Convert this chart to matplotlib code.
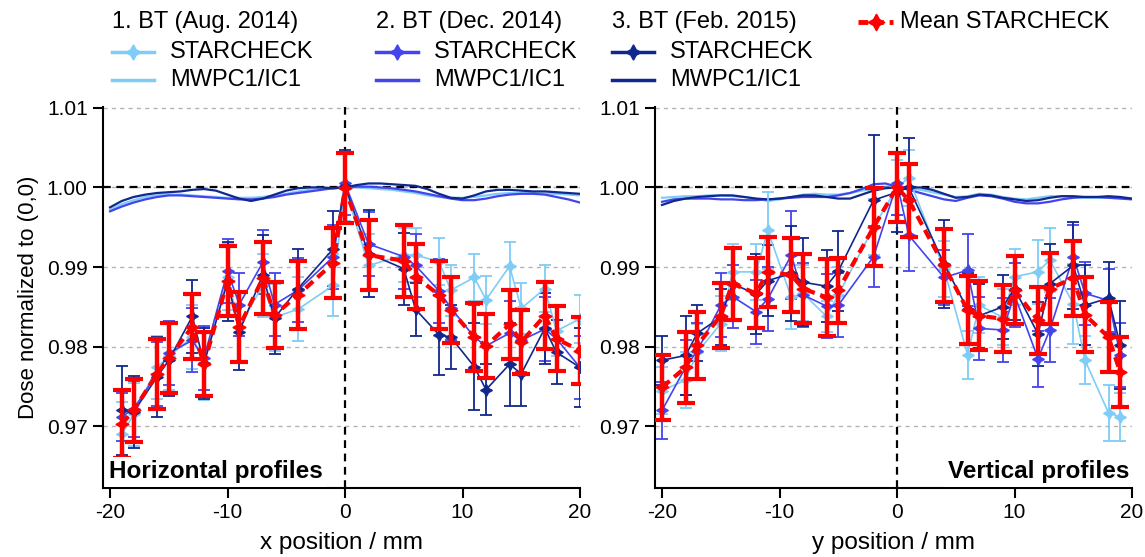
import numpy as np
import matplotlib
matplotlib.use('Agg')
import matplotlib.pyplot as plt

plt.rcParams['font.family'] = ['Liberation Sans', 'DejaVu Sans']

# ---------------- data ----------------
x_h = [-19, -18, -16, -15, -13, -12, -10, -9, -7, -6, -4, -1, 0, 2, 5, 6, 8, 9, 11, 12, 14, 15, 17, 18, 20]
aug_h = [0.9690, 0.9715, 0.9774, 0.9788, 0.9812, 0.9778, 0.9888, 0.9825, 0.9877, 0.9837, 0.9847, 0.9877, 1.0000,
         0.9902, 0.9915, 0.9915, 0.9907, 0.9871, 0.9887, 0.9859, 0.9901, 0.9848, 0.9873, 0.9820, 0.9835]
dec_h = [0.9712, 0.9722, 0.9766, 0.9792, 0.9808, 0.9786, 0.9895, 0.9853, 0.9906, 0.9853, 0.9871, 0.9913, 1.0005,
         0.9929, 0.9913, 0.9902, 0.9870, 0.9849, 0.9812, 0.9801, 0.9817, 0.9808, 0.9822, 0.9810, 0.9774]
feb_h = [0.9720, 0.9718, 0.9762, 0.9783, 0.9838, 0.9779, 0.9882, 0.9819, 0.9890, 0.9836, 0.9873, 0.9923, 1.0002,
         0.9917, 0.9898, 0.9847, 0.9815, 0.9812, 0.9775, 0.9746, 0.9778, 0.9766, 0.9823, 0.9793, 0.9774]
mean_h = [0.9703, 0.9720, 0.9766, 0.9786, 0.9825, 0.9778, 0.9883, 0.9825, 0.9886, 0.9840, 0.9865, 0.9905, 0.9999,
          0.9915, 0.9908, 0.9888, 0.9865, 0.9846, 0.9812, 0.9801, 0.9828, 0.9806, 0.9839, 0.9810, 0.9795]
aug_h_err = [0.0040, 0.0040, 0.0040, 0.0042, 0.0040, 0.0045, 0.0042, 0.0045, 0.0040, 0.0042, 0.0040, 0.0039, 0.0042,
             0.0040, 0.0034, 0.0034, 0.0030, 0.0032, 0.0030, 0.0030, 0.0030, 0.0032, 0.0030, 0.0032, 0.0030]
dec_h_err = [0.0030, 0.0035, 0.0040, 0.0040, 0.0040, 0.0040, 0.0040, 0.0040, 0.0040, 0.0040, 0.0040, 0.0040, 0.0040,
             0.0040, 0.0040, 0.0040, 0.0040, 0.0040, 0.0040, 0.0040, 0.0040, 0.0040, 0.0040, 0.0040, 0.0040]
feb_h_err = [0.0056, 0.0045, 0.0050, 0.0045, 0.0046, 0.0045, 0.0050, 0.0048, 0.0050, 0.0045, 0.0050, 0.0047, 0.0045,
             0.0055, 0.0045, 0.0033, 0.0050, 0.0040, 0.0055, 0.0032, 0.0052, 0.0040, 0.0045, 0.0040, 0.0050]
mean_h_err = [0.0043, 0.0040, 0.0044, 0.0044, 0.0041, 0.0040, 0.0044, 0.0044, 0.0045, 0.0041, 0.0043, 0.0044, 0.0044,
              0.0044, 0.0045, 0.0041, 0.0043, 0.0041, 0.0043, 0.0040, 0.0043, 0.0040, 0.0042, 0.0041, 0.0042]

x_v = [-20, -18, -17, -15, -14, -12, -11, -9, -8, -6, -5, -2, 0, 1, 4, 6, 7, 9, 10, 12, 13, 15, 16, 18, 19]
aug_v = [0.9745, 0.9758, 0.9793, 0.9829, 0.9894, 0.9894, 0.9946, 0.9862, 0.9867, 0.9838, 0.9865, 0.9950, 1.0000,
         1.0012, 0.9898, 0.9790, 0.9852, 0.9837, 0.9888, 0.9894, 0.9909, 0.9854, 0.9783, 0.9717, 0.9712]
dec_v = [0.9720, 0.9774, 0.9795, 0.9852, 0.9863, 0.9844, 0.9860, 0.9915, 0.9865, 0.9851, 0.9852, 0.9913, 1.0005,
         0.9940, 0.9887, 0.9896, 0.9823, 0.9821, 0.9865, 0.9785, 0.9821, 0.9913, 0.9867, 0.9858, 0.9790]
feb_v = [0.9783, 0.9789, 0.9817, 0.9837, 0.9879, 0.9866, 0.9883, 0.9892, 0.9881, 0.9876, 0.9895, 0.9984, 0.9994,
         1.0000, 0.9904, 0.9847, 0.9839, 0.9850, 0.9873, 0.9816, 0.9879, 0.9902, 0.9852, 0.9861, 0.9802]
mean_v = [0.9749, 0.9774, 0.9802, 0.9839, 0.9879, 0.9867, 0.9894, 0.9890, 0.9873, 0.9862, 0.9871, 0.9950, 1.0000,
          0.9984, 0.9902, 0.9846, 0.9839, 0.9835, 0.9871, 0.9833, 0.9873, 0.9886, 0.9840, 0.9812, 0.9768]
aug_v_err = [0.0030, 0.0035, 0.0035, 0.0035, 0.0035, 0.0035, 0.0048, 0.0040, 0.0035, 0.0020, 0.0035, 0.0035, 0.0035,
             0.0035, 0.0035, 0.0030, 0.0035, 0.0035, 0.0035, 0.0040, 0.0040, 0.0050, 0.0030, 0.0035, 0.0030]
dec_v_err = [0.0036, 0.0035, 0.0035, 0.0040, 0.0040, 0.0040, 0.0040, 0.0055, 0.0040, 0.0040, 0.0040, 0.0038, 0.0040,
             0.0045, 0.0035, 0.0045, 0.0040, 0.0040, 0.0040, 0.0035, 0.0040, 0.0040, 0.0040, 0.0040, 0.0040]
feb_v_err = [0.0031, 0.0050, 0.0035, 0.0035, 0.0045, 0.0050, 0.0045, 0.0060, 0.0055, 0.0045, 0.0050, 0.0082, 0.0050,
             0.0062, 0.0055, 0.0045, 0.0040, 0.0040, 0.0040, 0.0040, 0.0050, 0.0055, 0.0050, 0.0045, 0.0055]
mean_v_err = [0.0041, 0.0045, 0.0042, 0.0041, 0.0045, 0.0044, 0.0044, 0.0047, 0.0043, 0.0048, 0.0041, 0.0049, 0.0043,
              0.0046, 0.0046, 0.0043, 0.0043, 0.0042, 0.0043, 0.0042, 0.0045, 0.0047, 0.0047, 0.0044, 0.0044]

# MWPC1/IC1 profiles (1 mm steps, deviation from 1 in units of 1e-4)
x_mw = list(range(-20, 21))
mw_aug_h = [-28, -21, -16, -12, -10, -9, -9, -10, -11, -12, -13, -13, -13, -12, -10, -8, -5, -3, -2, -1, 0,
            0, -1, -2, -3, -5, -7, -10, -12, -13, -13, -12, -10, -8, -7, -7, -7, -8, -8, -9, -10]
mw_dec_h = [-30, -24, -19, -15, -12, -10, -10, -11, -12, -13, -14, -15, -15, -14, -12, -9, -7, -5, -3, -1, 0,
            1, 1, 0, -1, -3, -5, -8, -11, -14, -16, -16, -14, -11, -9, -8, -8, -9, -12, -15, -19]
mw_feb_h = [-25, -17, -12, -9, -7, -6, -5, -3, -2, -4, -9, -14, -17, -14, -9, -4, -1, 0, 0, -1, 0,
            3, 5, 5, 4, 3, 2, -2, -8, -13, -14, -10, -5, -3, -3, -4, -5, -5, -6, -7, -8]
mw_aug_v = [-13, -12, -11, -11, -10, -10, -11, -12, -14, -17, -15, -12, -9, -8, -9, -9, -7, -4, -2, 0, 0,
            -1, -3, -6, -9, -12, -11, -8, -9, -12, -14, -15, -13, -11, -11, -12, -13, -13, -13, -13, -14]
mw_dec_v = [-18, -15, -14, -14, -14, -15, -15, -16, -16, -15, -14, -13, -12, -12, -12, -10, -7, -2, 4, 5, 1,
            -3, -7, -11, -15, -17, -13, -10, -11, -14, -18, -20, -20, -18, -15, -13, -12, -12, -13, -14, -15]
mw_feb_v = [-22, -17, -14, -12, -11, -10, -10, -12, -14, -15, -14, -12, -10, -10, -12, -14, -14, -9, -4, -1, 0,
            0, 0, -3, -8, -13, -12, -9, -10, -13, -15, -17, -16, -13, -11, -11, -12, -12, -11, -12, -14]

xticks = [-20, -10, 0, 10, 20]
yticks = [0.97, 0.98, 0.99, 1.00, 1.01]
ytick_labels = ['0.97', '0.98', '0.99', '1.00', '1.01']

c_aug = '#7fcdf7'
c_dec = '#4444ee'
c_feb = '#10288c'
c_mean = '#ff0000'

W, H = 1145, 557
fig = plt.figure(figsize=(W / 100, H / 100), dpi=100)


def px_axes(x0, y0, x1, y1):
    return fig.add_axes([x0 / W, 1 - y1 / H, (x1 - x0) / W, (y1 - y0) / H])


axL = px_axes(103, 107, 580, 488)
axR = px_axes(655, 107, 1132, 488)

star = (4, 1, 0)


def draw_panel(ax, x, series, mean, mean_err, mws, label, text, text_right):
    for (vals, err, col), mw in zip(series, mws):
        ax.plot(x_mw, [1 + v * 1e-4 for v in mw], color=col, lw=1.6, zorder=3)
    for vals, err, col in series:
        ax.errorbar(x, vals, yerr=err, color=col, lw=1.2, marker=star, ms=8.5,
                    elinewidth=1.3, capsize=4.5, capthick=1.3, zorder=4)
    ax.errorbar(x, mean, yerr=mean_err, color=c_mean, lw=3, ls=(0, (2.4, 1.4)), marker=star, ms=9.5,
                elinewidth=3.2, capsize=6.3, capthick=3, zorder=6)
    ax.axhline(1.0, color='black', lw=1.6, ls=(0, (3.5, 2.5)), zorder=2)
    ax.axvline(0.0, color='black', lw=1.6, ls=(0, (3.5, 2.5)), zorder=2)
    ax.set_xlim(-20.6, 20)
    ax.set_ylim(0.96226, 1.0101)
    ax.set_xticks(xticks)
    ax.set_xticklabels([str(t) for t in xticks])
    ax.set_yticks(yticks)
    ax.set_yticklabels(ytick_labels)
    ax.grid(axis='y', color='#b4b4b4', ls=(0, (3, 3)), lw=1.0, zorder=0)
    ax.set_axisbelow(True)
    for s in ['top', 'right']:
        ax.spines[s].set_visible(False)
    for s in ['left', 'bottom']:
        ax.spines[s].set_linewidth(1.5)
    ax.tick_params(axis='both', direction='out', length=7, width=1.5, labelsize=15, pad=4)
    ax.set_xlabel(label, fontsize=17.5, labelpad=7)
    if text_right:
        ax.text(0.995, 0.012, text, transform=ax.transAxes, ha='right', va='bottom', fontsize=17.5,
                fontweight='bold', zorder=10,
                bbox=dict(facecolor='white', edgecolor='none', pad=2.5))
    else:
        ax.text(0.012, 0.012, text, transform=ax.transAxes, ha='left', va='bottom', fontsize=17.5,
                fontweight='bold', zorder=10,
                bbox=dict(facecolor='white', edgecolor='none', pad=2.5))


draw_panel(axL, x_h,
           [(aug_h, aug_h_err, c_aug), (dec_h, dec_h_err, c_dec), (feb_h, feb_h_err, c_feb)],
           mean_h, mean_h_err, [mw_aug_h, mw_dec_h, mw_feb_h],
           'x position / mm', 'Horizontal profiles', False)
draw_panel(axR, x_v,
           [(aug_v, aug_v_err, c_aug), (dec_v, dec_v_err, c_dec), (feb_v, feb_v_err, c_feb)],
           mean_v, mean_v_err, [mw_aug_v, mw_dec_v, mw_feb_v],
           'y position / mm', 'Vertical profiles', True)
axL.set_ylabel('Dose normalized to (0,0)', fontsize=16, labelpad=6)

# ---------------- legend (manual layout in pixel space) ----------------
leg = fig.add_axes([0, 0, 1, 1], zorder=20)
leg.set_xlim(0, W)
leg.set_ylim(H, 0)
leg.axis('off')
leg.patch.set_alpha(0)

titles = ['1. BT (Aug. 2014)', '2. BT (Dec. 2014)', '3. BT (Feb. 2015)']
cols = [c_aug, c_dec, c_feb]
col_x = [112, 376, 612]
label_dx = 58
row_y = [22, 52, 80]
fs_leg = 17
for tx, ttl, col in zip(col_x, titles, cols):
    leg.text(tx, row_y[0], ttl, fontsize=fs_leg, ha='left', va='center')
    leg.plot([tx, tx + 42], [row_y[1], row_y[1]], color=col, lw=2.5)
    leg.plot([tx + 21], [row_y[1]], color=col, marker=star, ms=11)
    leg.text(tx + label_dx, row_y[1], 'STARCHECK', fontsize=fs_leg, ha='left', va='center')
    leg.plot([tx, tx + 42], [row_y[2], row_y[2]], color=col, lw=2.5)
    leg.text(tx + label_dx, row_y[2], 'MWPC1/IC1', fontsize=fs_leg, ha='left', va='center')

leg.plot([858, 893], [row_y[0], row_y[0]], color=c_mean, lw=3.5, ls=(0, (2, 1.2)))
leg.plot([876], [row_y[0]], color=c_mean, marker=star, ms=12)
leg.text(900, row_y[0], 'Mean STARCHECK', fontsize=fs_leg, ha='left', va='center')

fig.savefig('out.png', dpi=100)
